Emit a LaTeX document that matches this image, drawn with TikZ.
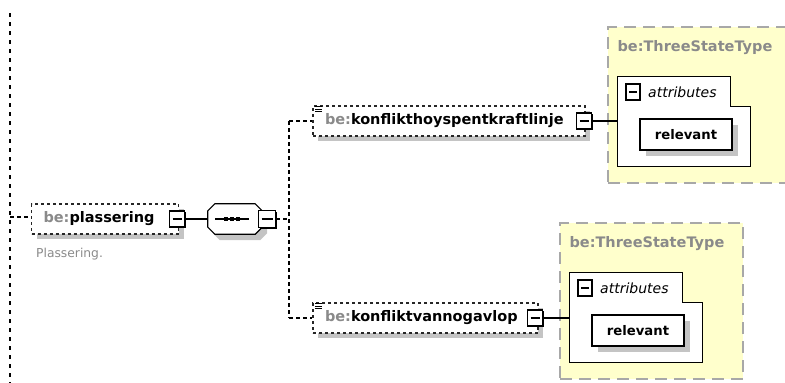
\documentclass[tikz,border=0pt]{standalone}
\usepackage{fontspec}
\setmainfont{DejaVu Sans}
\usetikzlibrary{positioning,shadows}

\definecolor{typefill}{HTML}{FFFFCC}
\definecolor{typeline}{HTML}{A8A8A8}
\definecolor{shade}{HTML}{C4C4C4}
\definecolor{prefix}{HTML}{8A8A8A}

\tikzset{
  rail/.style={draw=black, line width=1.5pt, dash pattern=on 4pt off 5pt},
  conn/.style={draw=black, line width=1.1pt, dash pattern=on 4pt off 3pt},
  elem/.style={draw=black!85, line width=1.1pt, dash pattern=on 3pt off 3pt, fill=white,
    minimum height=30pt, inner xsep=12pt, inner ysep=0pt, align=left,
    font=\fontsize{14.5}{17}\selectfont\bfseries,
    drop shadow={shadow xshift=5pt, shadow yshift=-5pt, fill=shade, opacity=1}},
  btn/.style={draw=black, line width=1.3pt, fill=white, minimum width=15pt, minimum height=16pt, inner sep=0pt,
    drop shadow={shadow xshift=1.2pt, shadow yshift=-1.2pt, fill=black, opacity=1},
    path picture={\draw[line width=1.3pt] ([xshift=3pt]path picture bounding box.west) -- ([xshift=-3pt]path picture bounding box.east);}},
  typebox/.style={draw=typeline, line width=1.3pt, dash pattern=on 12pt off 7pt, fill=typefill,
    minimum width=183pt, minimum height=156pt, inner sep=0pt},
  typetitle/.style={text=prefix, font=\fontsize{14.5}{17}\selectfont\bfseries, inner sep=0pt, anchor=west},
  attrbox/.style={minimum width=132pt, minimum height=89pt, inner sep=0pt},
  attrtext/.style={font=\fontsize{14}{17}\selectfont\itshape, inner sep=0pt, anchor=west},
  field/.style={draw=black, line width=1.2pt, fill=white, minimum width=92pt, minimum height=31pt, inner sep=0pt,
    font=\fontsize{13.2}{16}\selectfont\bfseries,
    drop shadow={shadow xshift=6pt, shadow yshift=-6pt, fill=shade, opacity=1}},
  note/.style={text=prefix, font=\fontsize{12.3}{15}\selectfont, inner sep=0pt, anchor=west}
}

\begin{document}
\begin{tikzpicture}[x=1pt, y=-1pt, line join=miter]
\useasboundingbox (0,0) rectangle (785,383);
\clip (0,0) rectangle (785,383);

% type boxes
\node[typebox] (typeT) at (699.5,105) {};
\node[typetitle] (ttlT) at ([xshift=10pt,yshift=-21pt]typeT.north west) {be:ThreeStateType};
\node[typebox] (typeB) at (651.5,301) {};
\node[typetitle] (ttlB) at ([xshift=10pt,yshift=-21pt]typeB.north west) {be:ThreeStateType};

% attribute groups
\node[attrbox] (attrT) at (684,121.5) {};
\draw[fill=white, line width=1.2pt] (attrT.north west) -- ([xshift=-20pt]attrT.north east) -- ([xshift=-20pt,yshift=-30pt]attrT.north east)
  -- ([yshift=-30pt]attrT.north east) -- (attrT.south east) -- (attrT.south west) -- cycle;
\node[btn, minimum width=14pt] (abtnT) at (633,92) {};
\node[attrtext] (atxtT) at (648,92) {attributes};
\node[field] (relT) at (686,134.5) {relevant};

\node[attrbox] (attrB) at (636,317.5) {};
\draw[fill=white, line width=1.2pt] (attrB.north west) -- ([xshift=-20pt]attrB.north east) -- ([xshift=-20pt,yshift=-30pt]attrB.north east)
  -- ([yshift=-30pt]attrB.north east) -- (attrB.south east) -- (attrB.south west) -- cycle;
\node[btn, minimum width=14pt] (abtnB) at (585,288) {};
\node[attrtext] (atxtB) at (600,288) {attributes};
\node[field] (relB) at (638,330.5) {relevant};

% left rail
\coordinate (railtop) at (10,13);
\coordinate (railbot) at (10,383);
\coordinate (railP) at (10,217);
\draw[rail] (railtop) -- (railbot);

% plassering
\node[elem, text width=123pt] (elP) at (105,219) {{\color{prefix}be:}plassering};
\node[btn] (btnP) at (177,219) {};
\node[note] (descP) at (36,254) {Plassering.};
\draw[conn] (railP) -- (elP.west |- railP);

% sequence
\node[minimum width=54pt, minimum height=30pt, inner sep=0pt] (seq) at (235,219) {};
\draw[fill=white, line width=1.2pt, drop shadow={shadow xshift=5pt, shadow yshift=-6pt, fill=shade, opacity=1}]
  ([xshift=7pt]seq.north west) -- ([xshift=-7pt]seq.north east) -- ([yshift=-7pt]seq.north east)
  -- ([yshift=7pt]seq.south east) -- ([xshift=-7pt]seq.south east) -- ([xshift=7pt]seq.south west)
  -- ([yshift=7pt]seq.south west) -- ([yshift=-7pt]seq.north west) -- cycle;
\draw[line width=1.2pt] ([xshift=-20pt]seq.center) -- ([xshift=14pt]seq.center);
\foreach \d in {-9,-3,3}
  \fill ([xshift=\d pt]seq.center) +(-2.4pt,-2.4pt) rectangle +(2.4pt,2.4pt);
\node[btn, minimum width=17pt, minimum height=17pt] (btnS) at (267,219) {};
\draw[line width=1.2pt] (btnP) -- (seq);

% children
\node[elem, text width=248pt] (elT) at (449,121) {{\color{prefix}be:}konflikthoyspentkraftlinje};
\node[btn] (btnT) at (584,121) {};
\node[elem, text width=201pt] (elB) at (425.5,318) {{\color{prefix}be:}konfliktvannogavlop};
\node[btn] (btnB) at (535,318) {};
\foreach \el in {elT,elB}
  \foreach \d in {1.5,4,6.5}
    \draw[line width=1pt] ([xshift=3pt,yshift=-\d pt]\el.north west) -- ++(7pt,0);

\coordinate (fork) at (289,219);
\draw[conn] (btnS.east) -- (fork);
\draw[conn] (fork |- elT.west) -- (fork |- elB.west);
\draw[conn] (fork |- elT.west) -- (elT.west);
\draw[conn] (fork |- elB.west) -- (elB.west);

\draw[line width=1.2pt] (btnT.east) -- (attrT.west |- btnT);
\draw[line width=1.2pt] (btnB.east) -- (attrB.west |- btnB);
\end{tikzpicture}
\end{document}
